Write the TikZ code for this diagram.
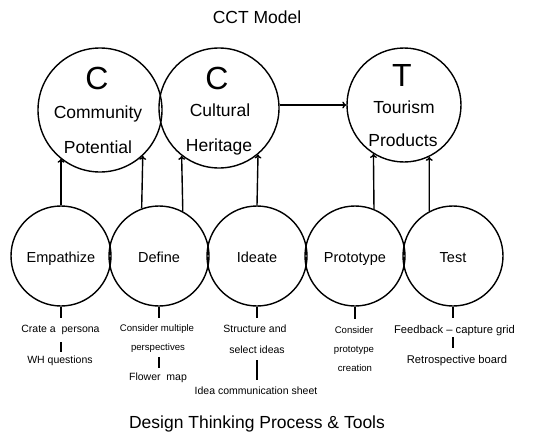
\documentclass[tikz,border=0pt]{standalone}
\usepackage{fontspec}
\setmainfont{Liberation Sans}
\usetikzlibrary{arrows.meta}
\begin{document}
\begin{tikzpicture}[x=1pt,y=-1pt,
  circ/.style={circle,draw,line width=1.4pt,inner sep=0pt},
  ar/.style={line width=1.4pt,-{To[length=4pt,width=7pt]}},
  ln/.style={line width=1.8pt},
  txt/.style={anchor=base,inner sep=0pt},
  title/.style={txt,font=\fontsize{17.5}{19}\selectfont},
  bigl/.style={txt,font=\fontsize{32}{34}\selectfont},
  mid/.style={txt,font=\fontsize{17.5}{19}\selectfont},
  stage/.style={txt,font=\fontsize{14.5}{16}\selectfont},
  lbl/.style={txt,font=\fontsize{10.5}{12}\selectfont},
  sml/.style={txt,font=\fontsize{9.6}{11}\selectfont}]
\useasboundingbox (0,0) rectangle (543,436);

% titles
\node[title] (t1) at (257,24) {CCT Model};
\node[title] (t2) at (257,428) {Design Thinking Process \& Tools};

% top circles
\node[circ,minimum size=124pt] (cp) at (100,110) {};
\node[circ,minimum size=120pt] (ch) at (219,108) {};
\node[circ,minimum size=114pt] (tp) at (404,105) {};
\node[bigl] (c1) at (97,89) {C};
\node[mid] (c1a) at (98,118) {Community};
\node[mid] (c1b) at (98,153) {Potential};
\node[bigl] (c2) at (217,89) {C};
\node[mid] (c2a) at (220,116) {Cultural};
\node[mid] (c2b) at (219,151) {Heritage};
\node[bigl] (c3) at (402,86) {T};
\node[mid] (c3a) at (404,113) {Tourism};
\node[mid] (c3b) at (403,146) {Products};

\draw[ar] (ch.east |- tp.west) -- (tp.west);

% bottom circles
\foreach \n/\x/\t in {emp/61/Empathize, def/159/Define, ide/257/Ideate, pro/355/Prototype, tes/453/Test}{
  \node[circ,minimum size=100pt] (\n) at (\x,256) {};
  \node[stage] (\n-t) at (\x,262) {\t};
}

% arrows up
\draw[ar] (emp.north) -- (emp.north |- cp.-129);
\draw[ar] (def.110) -- (cp.-47.4);
\draw[ar] (def.62.6) -- (ch.-128.1);
\draw[ar] (ide.north) -- (ch.-50.7);
\draw[ar] (pro.68.9) -- (tp.-122.9);
\draw[ar] (tes.118.7) -- (tp.-64);

% labels
\node[lbl] (e1) at (60.5,332) {Crate a\ \ persona};
\node[lbl] (e2) at (60,363) {WH questions};
\node[sml] (d1) at (157,331) {Consider multiple};
\node[sml] (d2) at (158,350) {perspectives};
\node[lbl] (d3) at (158,380) {Flower\ \ map};
\node[lbl] (i1) at (255,332) {Structure and};
\node[lbl] (i2) at (257,353) {select ideas};
\node[lbl] (i3) at (256,394) {Idea communication sheet};
\node[sml] (p1) at (354,333) {Consider};
\node[sml] (p2) at (354,352) {prototype};
\node[sml] (p3) at (355,371) {creation};
\node[lbl,font=\fontsize{11.2}{13}\selectfont] (s1) at (454.5,333) {Feedback -- capture grid};
\node[lbl,font=\fontsize{11.2}{13}\selectfont] (s2) at (457,363) {Retrospective board};

% connectors below
\draw[ln] (emp.south) -- (emp.south |- 0,318);
\draw[ln] (emp.south |- 0,342) -- (emp.south |- 0,352);
\draw[ln] (def.south) -- (def.south |- 0,318);
\draw[ln] (def.south |- 0,357) -- (def.south |- 0,368);
\draw[ln] (ide.south) -- (ide.south |- 0,318);
\draw[ln] (ide.south |- 0,360) -- (ide.south |- 0,380);
\draw[ln] (pro.south) -- (pro.south |- 0,319);
\draw[ln] (tes.south) -- (tes.south |- 0,318);
\draw[ln] (tes.south |- 0,337) -- (tes.south |- 0,348);
\end{tikzpicture}
\end{document}
